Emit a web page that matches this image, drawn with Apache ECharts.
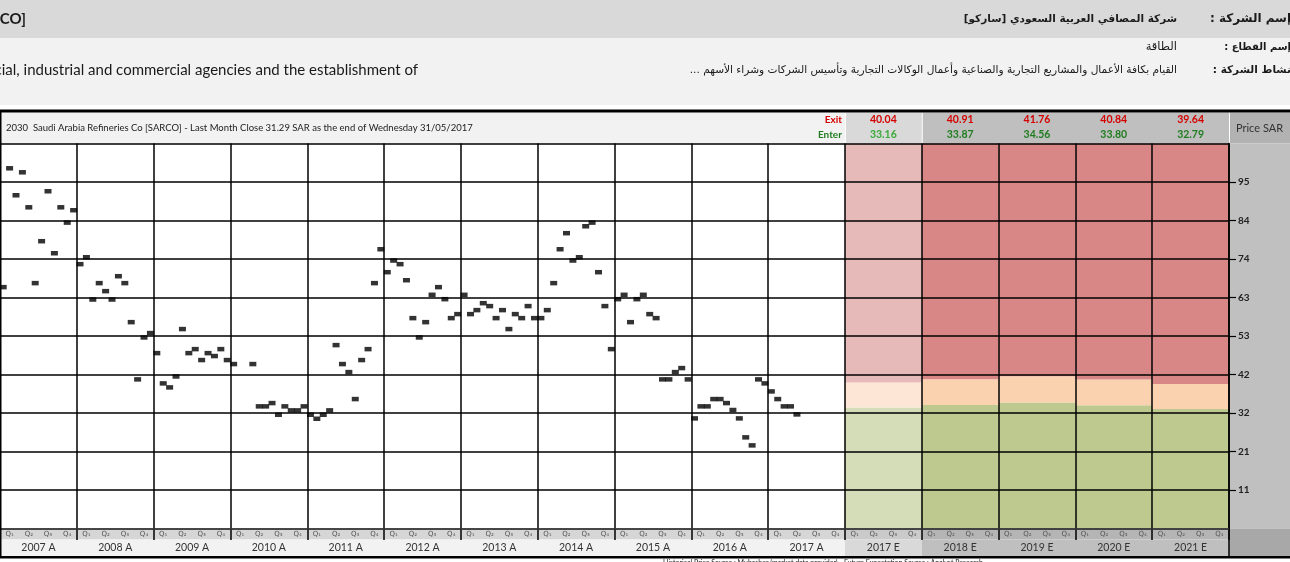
<!DOCTYPE html>
<html>
<head>
<meta charset="utf-8">
<script src="https://cdn.jsdelivr.net/npm/echarts@6/dist/echarts.min.js"></script>
<style>
html, body { margin: 0; padding: 0; background: #fff; }
#chart { width: 1290px; height: 562px; }
</style>
</head>
<body>
<div id="chart"></div>
<script>
// years shown on the bottom axis
const histYears = ['2007 A', '2008 A', '2009 A', '2010 A', '2011 A', '2012 A', '2013 A', '2014 A', '2015 A', '2016 A', '2017 A']
const forecastYears = ['2017 E', '2018 E', '2019 E', '2020 E', '2021 E']
const quarterLabels = ['Q\u2081', 'Q\u2082', 'Q\u2083', 'Q\u2084']

// monthly close, SAR
const price2007 = [66.2, 98.8, 91.4, 97.7, 88.1, 67.3, 78.8, 92.5, 75.5, 88.1, 83.9, 87.3]
const price2008 = [72.5, 74.4, 62.8, 67.3, 65.1, 62.8, 69.2, 67.3, 56.6, 40.9, 52.4, 53.6]
const price2009 = [48.1, 39.8, 38.7, 41.7, 54.7, 48.1, 49.2, 46.2, 48.1, 47.3, 49.2, 46.2]
const price2010 = [45.1, null, null, 45.1, 33.5, 33.5, 34.4, 31.2, 33.5, 32.4, 32.4, 33.5]
const price2011 = [31.2, 30.1, 31.2, 32.4, 50.3, 45.1, 42.9, 35.5, 46.2, 49.2, 67.3, 76.6]
const price2012 = [70.3, 73.5, 72.5, 68.1, 57.7, 52.4, 56.6, 64.1, 66.2, 62.9, 57.7, 58.8]
const price2013 = [64.1, 58.8, 59.9, 61.8, 61.0, 57.7, 59.9, 54.7, 58.8, 57.7, 61.0, 57.7]
const price2014 = [57.7, 59.9, 67.3, 76.6, 81.0, 73.5, 74.4, 82.9, 83.9, 70.3, 61.0, 49.2]
const price2015 = [62.9, 64.1, 56.6, 62.9, 64.1, 58.8, 57.7, 40.9, 40.9, 42.9, 44.0, 40.9]
const price2016 = [30.2, 33.5, 33.5, 35.5, 35.5, 34.4, 32.5, 30.2, 25.0, 22.8, 40.9, 39.8]
const price2017 = [37.6, 35.5, 33.5, 33.5, 31.29]

// expected exit / enter levels per forecast year
const exitPrices = [40.04, 40.91, 41.76, 40.84, 39.64]
const enterPrices = [33.16, 33.87, 34.56, 33.80, 32.79]

// price axis: nine labelled steps
const yStep = 10.56
const yTop = 105.6

const yearLabels = histYears.concat(forecastYears)
const nHist = histYears.length

const monthCats = []
yearLabels.forEach(y => { for (let m = 1; m <= 12; m++) monthCats.push(y + '-' + m) })
const monthly = [].concat(price2007, price2008, price2009, price2010, price2011, price2012,
  price2013, price2014, price2015, price2016, price2017)
while (monthly.length < monthCats.length) monthly.push(null)

const quarterCats = []
yearLabels.forEach(y => quarterLabels.forEach(q => quarterCats.push(y + '|' + q)))

// layout
const gridL = 0, gridT = 143.5, gridW = 1229, gridH = 385
const gridB = gridT + gridH
const colW = gridW / yearLabels.length
const fcX = gridL + nHist * colW
const fc2X = fcX + colW
const axisR = gridL + gridW

const light = { pink: '#e7baba', peach: '#fde6d6', green: '#d4dcb8' }
const dark = { pink: '#d98786', peach: '#fbd2b0', green: '#bec98f' }

function zone(key, fn) {
  return yearLabels.map((y, i) => {
    if (i < nHist) return null
    const j = i - nHist
    return { value: fn(j), itemStyle: { color: (j === 0 ? light : dark)[key] } }
  })
}

const FONT = 'Lato, "DejaVu Sans", sans-serif'
const AR = '"DejaVu Sans", sans-serif'
const rtl = s => '\u202B' + s + '\u202C'

const chart = echarts.init(document.getElementById('chart'))

const graphics = [
  // header bands
  { type: 'rect', z: -10, shape: { x: 0, y: 0, width: 1290, height: 38 }, style: { fill: '#d9d9d9' } },
  { type: 'rect', z: -10, shape: { x: 0, y: 38, width: 1290, height: 67 }, style: { fill: '#f2f2f2' } },
  { type: 'text', z: 30, x: 26, y: 19, style: { text: 'Saudi Arabia Refineries Co [SARCO]', align: 'right', verticalAlign: 'middle', font: 'bold 15px ' + FONT, fill: '#1a1a1a' } },
  { type: 'text', z: 30, x: 418, y: 70, style: { text: 'Carrying out all works and projects of commercial, industrial and commercial agencies and the establishment of', align: 'right', verticalAlign: 'middle', font: '15px ' + FONT, fill: '#1a1a1a' } },
  { type: 'text', z: 30, x: 1291, y: 19, style: { text: rtl('إسم الشركة :'), align: 'right', verticalAlign: 'middle', font: 'bold 12px ' + AR, fill: '#1a1a1a' } },
  { type: 'text', z: 30, x: 1177, y: 19, style: { text: rtl('شركة المصافي العربية السعودي [ساركو]'), align: 'right', verticalAlign: 'middle', font: 'bold 10.5px ' + AR, fill: '#1a1a1a' } },
  { type: 'text', z: 30, x: 1291, y: 47, style: { text: rtl('إسم القطاع :'), align: 'right', verticalAlign: 'middle', font: 'bold 10px ' + AR, fill: '#1a1a1a' } },
  { type: 'text', z: 30, x: 1177, y: 47, style: { text: rtl('الطاقة'), align: 'right', verticalAlign: 'middle', font: '11.5px ' + AR, fill: '#1a1a1a' } },
  { type: 'text', z: 30, x: 1291, y: 70, style: { text: rtl('نشاط الشركة :'), align: 'right', verticalAlign: 'middle', font: 'bold 10.5px ' + AR, fill: '#1a1a1a' } },
  { type: 'text', z: 30, x: 1177, y: 70, style: { text: rtl('القيام بكافة الأعمال والمشاريع التجارية والصناعية وأعمال الوكالات التجارية وتأسيس الشركات وشراء الأسهم ...'), align: 'right', verticalAlign: 'middle', font: '10.6px ' + AR, fill: '#1a1a1a' } },

  // frame
  { type: 'rect', z: 40, shape: { x: 0, y: 109.5, width: 1290, height: 3 }, style: { fill: '#000' } },
  { type: 'rect', z: 40, shape: { x: 0, y: 556, width: 1290, height: 2.5 }, style: { fill: '#000' } },
  { type: 'rect', z: 40, shape: { x: 0, y: 110, width: 1.5, height: 448 }, style: { fill: '#000' } },

  // title row
  { type: 'rect', z: -10, shape: { x: 0, y: 112.5, width: fcX, height: gridT - 112.5 }, style: { fill: '#f2f2f2' } },
  { type: 'rect', z: -10, shape: { x: fcX + 1, y: 112.5, width: colW - 1, height: gridT - 112.5 }, style: { fill: '#d9d9d9' } },
  { type: 'rect', z: -10, shape: { x: fc2X + 1, y: 112.5, width: axisR - fc2X - 1, height: gridT - 112.5 }, style: { fill: '#bfbfbf' } },
  { type: 'rect', z: -10, shape: { x: axisR + 1, y: 112.5, width: 1290 - axisR, height: gridT - 112.5 }, style: { fill: '#b2b2b2' } },
  { type: 'text', z: 30, x: 6, y: 127.5, style: { text: '2030  Saudi Arabia Refineries Co [SARCO] - Last Month Close 31.29 SAR as the end of Wednesday 31/05/2017', verticalAlign: 'middle', font: '9.5px ' + FONT, fill: '#222' } },
  { type: 'text', z: 30, x: fcX - 3, y: 119.5, style: { text: 'Exit', align: 'right', verticalAlign: 'middle', font: 'bold 10px ' + FONT, fill: '#d40000' } },
  { type: 'text', z: 30, x: fcX - 3, y: 134.5, style: { text: 'Enter', align: 'right', verticalAlign: 'middle', font: 'bold 10px ' + FONT, fill: '#1f7d1f' } },
  { type: 'text', z: 30, x: axisR + 30.5, y: 128, style: { text: 'Price SAR', align: 'center', verticalAlign: 'middle', font: '11px ' + FONT, fill: '#333' } },

  // price axis column
  { type: 'rect', z: -10, shape: { x: axisR, y: gridT, width: 1290 - axisR, height: gridH }, style: { fill: '#c0c0c0' } },
  { type: 'rect', z: -10, shape: { x: axisR, y: gridB, width: 1290 - axisR, height: 556 - gridB }, style: { fill: '#a8a8a8' } },
  { type: 'line', z: 30, shape: { x1: axisR, y1: gridB, x2: axisR, y2: 556 }, style: { stroke: '#000', lineWidth: 1.5 } },

  // quarter row + year row
  { type: 'rect', z: -10, shape: { x: 0, y: gridB, width: fcX, height: 11 }, style: { fill: '#d6d6d6' } },
  { type: 'rect', z: -10, shape: { x: fcX, y: gridB, width: colW, height: 11 }, style: { fill: '#cacaca' } },
  { type: 'rect', z: -10, shape: { x: fc2X, y: gridB, width: axisR - fc2X, height: 11 }, style: { fill: '#b5b5b5' } },
  { type: 'rect', z: -10, shape: { x: 0, y: gridB + 11, width: fcX, height: 556 - gridB - 11 }, style: { fill: '#f2f2f2' } },
  { type: 'rect', z: -10, shape: { x: fcX, y: gridB + 11, width: colW, height: 556 - gridB - 11 }, style: { fill: '#d9d9d9' } },
  { type: 'rect', z: -10, shape: { x: fc2X, y: gridB + 11, width: axisR - fc2X, height: 556 - gridB - 11 }, style: { fill: '#bfbfbf' } },
  { type: 'line', z: 30, shape: { x1: 0, y1: gridB + 0.5, x2: axisR, y2: gridB + 0.5 }, style: { stroke: '#555', lineWidth: 1 } },

  { type: 'text', z: 30, x: 823, y: 558.8, style: { text: 'Historical Price Source : Mubasher (market data provider) - Future Expectation Source : Analyst Research', align: 'center', verticalAlign: 'top', font: '7px ' + FONT, fill: '#222' } }
]

chart.setOption({
  animation: false,
  backgroundColor: '#fff',
  grid: { left: gridL, top: gridT, width: gridW, height: gridH, containLabel: false },
  xAxis: [
    { type: 'category', data: monthCats, show: false, boundaryGap: true },
    {
      type: 'category', data: yearLabels, position: 'bottom', z: 10, boundaryGap: true,
      axisLine: { show: false },
      axisTick: { show: true, interval: 0, length: 11.5, lineStyle: { color: '#000', width: 1.5 } },
      axisLabel: { interval: 0, margin: 13.5, fontSize: 10.5, fontFamily: FONT, color: '#333' },
      splitLine: { show: true, interval: 0, lineStyle: { color: '#000', width: 1.5 } }
    },
    {
      type: 'category', data: quarterCats, position: 'bottom', z: 10,
      axisLine: { show: false }, axisTick: { show: false }, splitLine: { show: false },
      axisLabel: { interval: 0, margin: 2.5, fontSize: 7, fontFamily: '"DejaVu Sans", sans-serif', color: '#555', formatter: v => v.split('|')[1] }
    },
    {
      type: 'category', data: yearLabels, position: 'top', z: 10,
      axisLine: { show: false }, axisTick: { show: false }, splitLine: { show: false },
      axisLabel: {
        interval: 0, margin: 1.5,
        formatter: (v, idx) => {
          const j = idx - nHist
          if (j < 0) return ''
          return '{r|' + exitPrices[j].toFixed(2) + '}\n{' + (j === 0 ? 'gl' : 'g') + '|' + enterPrices[j].toFixed(2) + '}'
        },
        rich: {
          r: { color: '#d40000', fontWeight: 'bold', fontSize: 10.5, lineHeight: 15, fontFamily: FONT },
          g: { color: '#1f7d1f', fontWeight: 'bold', fontSize: 10.5, lineHeight: 15, fontFamily: FONT },
          gl: { color: '#3aaa3a', fontWeight: 'bold', fontSize: 10.5, lineHeight: 15, fontFamily: FONT }
        }
      }
    }
  ],
  yAxis: {
    type: 'value', position: 'right', min: 0, max: yTop, interval: yStep, z: 10,
    axisLine: { show: true, lineStyle: { color: '#000', width: 1.5 } },
    axisTick: { show: true, length: 7, lineStyle: { color: '#000', width: 1.2 } },
    axisLabel: {
      margin: 9, fontSize: 10, fontWeight: 'bold', fontFamily: FONT, color: '#222',
      showMinLabel: false, showMaxLabel: false,
      formatter: v => String(Math.round(v))
    },
    splitLine: { show: true, lineStyle: { color: '#000', width: 1.5 } }
  },
  series: [
    { type: 'bar', xAxisIndex: 1, stack: 'zone', z: 1, barWidth: '100%', data: zone('green', j => enterPrices[j]) },
    { type: 'bar', xAxisIndex: 1, stack: 'zone', z: 1, barWidth: '100%', data: zone('peach', j => exitPrices[j] - enterPrices[j]) },
    { type: 'bar', xAxisIndex: 1, stack: 'zone', z: 1, barWidth: '100%', data: zone('pink', j => yTop - exitPrices[j]) },
    {
      type: 'scatter', xAxisIndex: 0, z: 20, symbol: 'rect', symbolSize: [7, 4.5],
      itemStyle: { color: '#000' }, data: monthly
    }
  ],
  graphic: { elements: graphics }
})
</script>
</body>
</html>
